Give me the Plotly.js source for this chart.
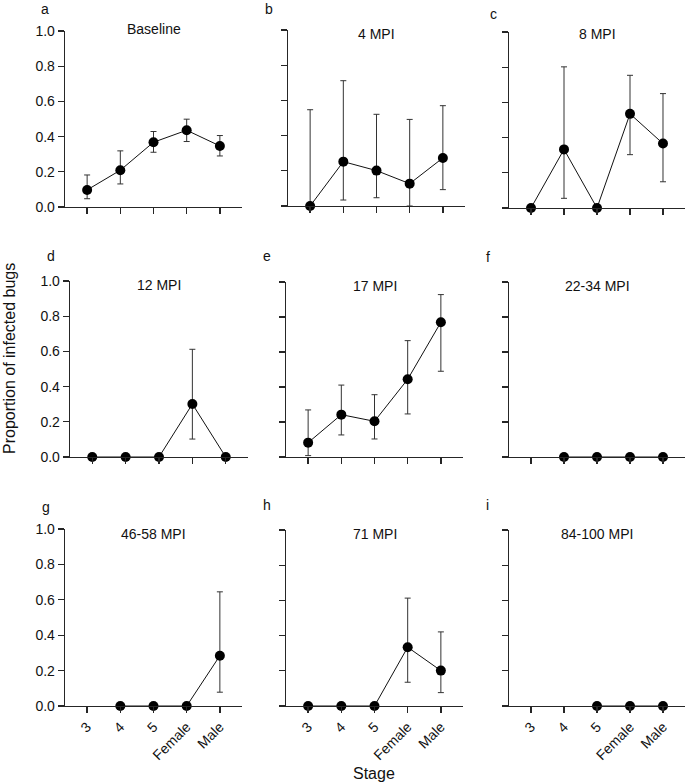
<!DOCTYPE html>
<html>
<head>
<meta charset="utf-8">
<script src="https://cdn.plot.ly/plotly-3.0.1.min.js"></script>
<style>html,body{margin:0;padding:0;background:#fff;}#chart{width:685px;height:784px;}</style>
</head>
<body>
<div id="chart"></div>
<script>
// ---- data ----
const stages = ['3', '4', '5', 'Female', 'Male'];
const panelLetters = ['a', 'b', 'c', 'd', 'e', 'f', 'g', 'h', 'i'];
const panelTitles = ['Baseline', '4 MPI', '8 MPI', '12 MPI', '17 MPI', '22-34 MPI', '46-58 MPI', '71 MPI', '84-100 MPI'];
const yTicks = [0, 0.2, 0.4, 0.6, 0.8, 1.0];

// proportion of infected bugs, with upper / lower error bounds (NaN = no bar, null = no point)
const baselineY  = [0.097, 0.209, 0.368, 0.436, 0.347];
const baselineHi = [0.182, 0.319, 0.429, 0.499, 0.406];
const baselineLo = [0.047, 0.131, 0.311, 0.372, 0.290];

const mpi4Y  = [0, 0.252, 0.201, 0.127, 0.273];
const mpi4Hi = [0.547, 0.712, 0.521, 0.492, 0.570];
const mpi4Lo = [0, 0.034, 0.047, 0, 0.093];

const mpi8Y  = [0, 0.333, 0, 0.535, 0.366];
const mpi8Hi = [NaN, 0.802, NaN, 0.754, 0.650];
const mpi8Lo = [NaN, 0.055, NaN, 0.303, 0.149];

const mpi12Y  = [0, 0, 0, 0.301, 0];
const mpi12Hi = [NaN, NaN, NaN, 0.612, NaN];
const mpi12Lo = [NaN, NaN, NaN, 0.102, NaN];

const mpi17Y  = [0.082, 0.242, 0.204, 0.444, 0.770];
const mpi17Hi = [0.269, 0.411, 0.356, 0.665, 0.928];
const mpi17Lo = [0.008, 0.126, 0.103, 0.246, 0.490];

const mpi22Y  = [null, 0, 0, 0, 0];
const mpi22Hi = [NaN, NaN, NaN, NaN, NaN];
const mpi22Lo = [NaN, NaN, NaN, NaN, NaN];

const mpi46Y  = [null, 0, 0, 0, 0.284];
const mpi46Hi = [NaN, NaN, NaN, NaN, 0.645];
const mpi46Lo = [NaN, NaN, NaN, NaN, 0.078];

const mpi71Y  = [0, 0, 0, 0.334, 0.201];
const mpi71Hi = [NaN, NaN, NaN, 0.613, 0.421];
const mpi71Lo = [NaN, NaN, NaN, 0.135, 0.076];

const mpi84Y  = [null, null, 0, 0, 0];
const mpi84Hi = [NaN, NaN, NaN, NaN, NaN];
const mpi84Lo = [NaN, NaN, NaN, NaN, NaN];

const seriesY  = [baselineY, mpi4Y, mpi8Y, mpi12Y, mpi17Y, mpi22Y, mpi46Y, mpi71Y, mpi84Y];
const seriesHi = [baselineHi, mpi4Hi, mpi8Hi, mpi12Hi, mpi17Hi, mpi22Hi, mpi46Hi, mpi71Hi, mpi84Hi];
const seriesLo = [baselineLo, mpi4Lo, mpi8Lo, mpi12Lo, mpi17Lo, mpi22Lo, mpi46Lo, mpi71Lo, mpi84Lo];

// ---- layout geometry (pixels) ----
const W = 685, H = 784;
const FONT = 'Arial, "Liberation Sans", sans-serif';
const AX = '#262626';
const TXT = '#111';
const xPix = [[65, 242], [288, 465], [509, 685], [70, 248], [286, 463], [509, 685], [65, 242], [286, 463], [509, 685]];
const yPix = [[31, 207], [30, 206], [32, 208], [281, 457], [282, 457], [282, 457], [529, 706], [530, 706], [530, 706]];
const letterPos = [[45, 9], [269, 9], [493, 14], [51, 256], [267, 256], [488, 257], [46, 507], [267, 505], [487, 505]];
const titleY = [29, 34, 34, 285, 286, 286, 534, 534, 534];

const px = v => v / W;
const py = v => 1 - v / H;

const traces = [];
const layout = {
  width: W, height: H,
  margin: {l: 0, r: 0, t: 0, b: 0},
  paper_bgcolor: '#fff', plot_bgcolor: 'rgba(0,0,0,0)',
  showlegend: false,
  font: {family: FONT, color: TXT, size: 13},
  annotations: []
};

for (let k = 0; k < 9; k++) {
  const n = k === 0 ? '' : String(k + 1);
  const ys = seriesY[k];
  const plus = ys.map((v, i) => (v === null || isNaN(seriesHi[k][i])) ? NaN : seriesHi[k][i] - v);
  const minus = ys.map((v, i) => (v === null || isNaN(seriesLo[k][i])) ? NaN : v - seriesLo[k][i]);
  traces.push({
    type: 'scatter', mode: 'lines+markers',
    x: stages, y: ys,
    xaxis: 'x' + n, yaxis: 'y' + n,
    line: {color: '#111', width: 1},
    marker: {color: '#000', size: 10},
    error_y: {type: 'data', array: plus, arrayminus: minus, symmetric: false,
              color: '#333', thickness: 1, width: 3},
    cliponaxis: false,
    hoverinfo: 'skip'
  });
  const bottomRow = k >= 6;
  const leftCol = k % 3 === 0;
  layout['xaxis' + n] = {
    domain: [px(xPix[k][0]), px(xPix[k][1])],
    anchor: 'y' + n,
    type: 'category', categoryarray: stages, categoryorder: 'array',
    range: [-0.667, 4.667],
    showline: true, linecolor: AX, linewidth: 1.3,
    showgrid: false, zeroline: false,
    ticks: 'outside', ticklen: 6, tickwidth: 1.3, tickcolor: AX,
    showticklabels: bottomRow, tickangle: -45,
    tickfont: {family: FONT, size: 14, color: TXT},
    fixedrange: true
  };
  layout['yaxis' + n] = {
    domain: [py(yPix[k][1]), py(yPix[k][0])],
    anchor: 'x' + n,
    range: [0, 1],
    showline: true, linecolor: AX, linewidth: 1.3,
    showgrid: false, zeroline: false,
    tickmode: 'array', tickvals: yTicks, tickformat: '.1f',
    ticks: 'outside', ticklen: 6, tickwidth: 1.3, tickcolor: AX,
    showticklabels: leftCol,
    tickfont: {family: FONT, size: 14, color: TXT},
    fixedrange: true
  };
  // panel letter
  layout.annotations.push({
    xref: 'paper', yref: 'paper', x: px(letterPos[k][0]), y: py(letterPos[k][1]),
    xanchor: 'center', yanchor: 'middle', showarrow: false, borderpad: 0,
    text: panelLetters[k], font: {family: FONT, size: 14, color: TXT}
  });
  // panel title (centred over the middle stage, which is the centre of the symmetric range)
  layout.annotations.push({
    xref: 'paper', yref: 'paper', x: px((xPix[k][0] + xPix[k][1]) / 2), y: py(titleY[k]),
    xanchor: 'center', yanchor: 'middle', showarrow: false,
    text: panelTitles[k], font: {family: FONT, size: 14, color: TXT}
  });
}

// axis titles
layout.annotations.push({
  xref: 'paper', yref: 'paper', x: px(9), y: py(359),
  xanchor: 'center', yanchor: 'middle', showarrow: false, textangle: -90,
  text: 'Proportion of infected bugs', font: {family: FONT, size: 16, color: TXT}
});
layout.annotations.push({
  xref: 'paper', yref: 'paper', x: px(374), y: py(773),
  xanchor: 'center', yanchor: 'middle', showarrow: false,
  text: 'Stage', font: {family: FONT, size: 16, color: TXT}
});

Plotly.newPlot('chart', traces, layout, {staticPlot: true, displayModeBar: false});
</script>
</body>
</html>
